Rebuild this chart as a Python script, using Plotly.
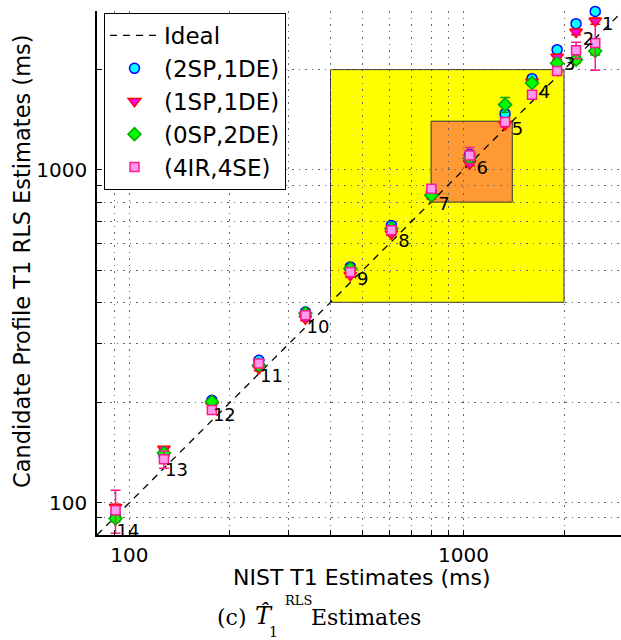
import plotly.graph_objects as go
import numpy as np

# NIST reference T1 values (ms), spheres 1..14
nist_t1 = [2480, 2173, 1907, 1604, 1332, 1044, 801.7, 608.6, 458.4, 336.5, 244.2, 176.6, 126.9, 90.9]
sphere_labels = ["1", "2", "3", "4", "5", "6", "7", "8", "9", "10", "11", "12", "13", "14"]
label_y = [2716, 2449, 2060, 1697, 1314, 1003, 782, 606, 466, 334, 238, 181, 124, 81.5]

# Candidate profile T1 RLS estimates (ms)
est_2sp_1de = [2992, 2748, 2296, 1879, 1475, 1113, 858, 681, 511, 374, 268, 203, 139, 90.6]
est_1sp_1de = [2799, 2594, 2182, 1835, 1369, 1044, 828, 643, 482, 357, 253, 196, 145, 97]
est_0sp_2de = [2274, 2143, 2090, 1823, 1570, 1083, 838, 667, 505, 371, 259, 201, 141, 89.7]
est_4ir_4se = [2404, 2285, 1980, 1682, 1392, 1105, 878, 658, 493, 366, 262, 190, 135, 95]

# Standard deviations (ms)
sd_2sp_1de = [60, 40, 30, 25, 20, 15, 10, 8, 6, 5, 4, 3, 2, 2]
sd_1sp_1de = [60, 50, 40, 30, 20, 15, 10, 8, 6, 5, 4, 3, 2, 2]
sd_0sp_2de = [60, 50, 40, 30, 80, 20, 10, 8, 6, 5, 4, 3, 2, 2]
sd_4ir_4se = [413, 130, 40, 30, 25, 63, 15, 10, 8, 6, 5, 4, 8, 14]

axis_range = [80, 2962]
grid_vals = [80, 90, 100, 200, 300, 400, 500, 600, 700, 800, 900, 1000, 2000, 3000]
grid_text = ["", "", "100", "", "", "", "", "", "", "", "", "1000", "", ""]

yellow_box = [400, 2000]
orange_box = [800, 1400]

FONT = "DejaVu Sans"
SERIF = "DejaVu Serif"

fig = go.Figure()

fig.add_trace(go.Scatter(
    x=[axis_range[0], 3000], y=[axis_range[0], 3000], mode="lines", name="Ideal",
    line=dict(color="black", dash="7px,6px", width=1.3), cliponaxis=True))

series = [
    ("(2SP,1DE)", est_2sp_1de, sd_2sp_1de, "circle", "#00FFFF", "#0000FF", 10),
    ("(1SP,1DE)", est_1sp_1de, sd_1sp_1de, "triangle-down", "#FF00FF", "#FF0000", 11),
    ("(0SP,2DE)", est_0sp_2de, sd_0sp_2de, "diamond", "#00FF00", "#00AA00", 10),
    ("(4IR,4SE)", est_4ir_4se, sd_4ir_4se, "square", "#FF99EE", "#FF1A8C", 9),
]
for name, est, sd, sym, fill, edge, size in series:
    fig.add_trace(go.Scatter(
        x=nist_t1, y=est, mode="markers", name=name,
        marker=dict(symbol=sym, color=fill, size=size, line=dict(color=edge, width=1.5)),
        error_y=dict(type="data", array=sd, color=edge, thickness=1.5, width=5),
        cliponaxis=False))

fig.add_trace(go.Scatter(
    x=[v * 1.09 for v in nist_t1], y=label_y, mode="text", text=sphere_labels,
    textfont=dict(family=FONT, size=18, color="black"), showlegend=False,
    cliponaxis=False, hoverinfo="skip"))

for box, col in [(yellow_box, "#FFFF00"), (orange_box, "#FF9933")]:
    fig.add_shape(type="rect", xref="x", yref="y", x0=box[0], x1=box[1], y0=box[0], y1=box[1],
                  fillcolor=col, line=dict(color="#333333", width=1), layer="below")

axis_common = dict(
    type="log", tickvals=grid_vals, ticktext=grid_text,
    showline=True, linecolor="black", linewidth=1.5, mirror=False,
    ticks="inside", ticklen=5, tickcolor="black", tickwidth=1,
    showgrid=True, gridcolor="#666666", griddash="1.5px,5px", gridwidth=1,
    tickfont=dict(family=FONT, size=20, color="black"),
)
fig.update_xaxes(range=[np.log10(axis_range[0]), np.log10(axis_range[1])], ticklabelstandoff=1, **axis_common)
fig.update_yaxes(range=[np.log10(axis_range[0]), np.log10(3000)], ticklabelstandoff=4, **axis_common)

W, H = 621, 640
L, R, T, B = 97, 0, 11, 105
pw, ph = W - L - R, H - T - B
def px(xp):
    return (xp - L) / pw
def py(yp):
    return (H - B - yp) / ph

anns = [
    dict(text="NIST T1 Estimates (ms)", x=px(361), y=py(577), font=dict(family=FONT, size=22)),
    dict(text="Candidate Profile T1 RLS Estimates (ms)", x=px(22), y=py(261), textangle=-90,
         font=dict(family=FONT, size=22.5)),
    dict(text="(c)", x=px(215), y=py(617), xanchor="left", font=dict(family=SERIF, size=22)),
    dict(text="<i>T\u0302</i>", x=px(253), y=py(616), xanchor="left", font=dict(family=SERIF, size=24)),
    dict(text="RLS", x=px(283), y=py(600), xanchor="left", font=dict(family=SERIF, size=13)),
    dict(text="1", x=px(267), y=py(632), xanchor="left", font=dict(family=SERIF, size=14)),
    dict(text="Estimates", x=px(309), y=py(617), xanchor="left", font=dict(family=SERIF, size=22)),
]
for a in anns:
    a.setdefault("xanchor", "center")
    fig.add_annotation(xref="paper", yref="paper", showarrow=False, yanchor="middle",
                       font_color="black", **{k: v for k, v in a.items()})

fig.update_layout(
    width=W, height=H, margin=dict(l=L, r=R, t=T, b=B),
    paper_bgcolor="white", plot_bgcolor="white",
    showlegend=True,
    legend=dict(x=px(104), y=py(13), xanchor="left", yanchor="top",
                bgcolor="white", bordercolor="black", borderwidth=1,
                font=dict(family=FONT, size=23, color="black"), itemwidth=49,
                tracegroupgap=0),
)

fig.write_html("out.html", config={"displayModeBar": False},
               post_script="document.body.style.margin='0';")
